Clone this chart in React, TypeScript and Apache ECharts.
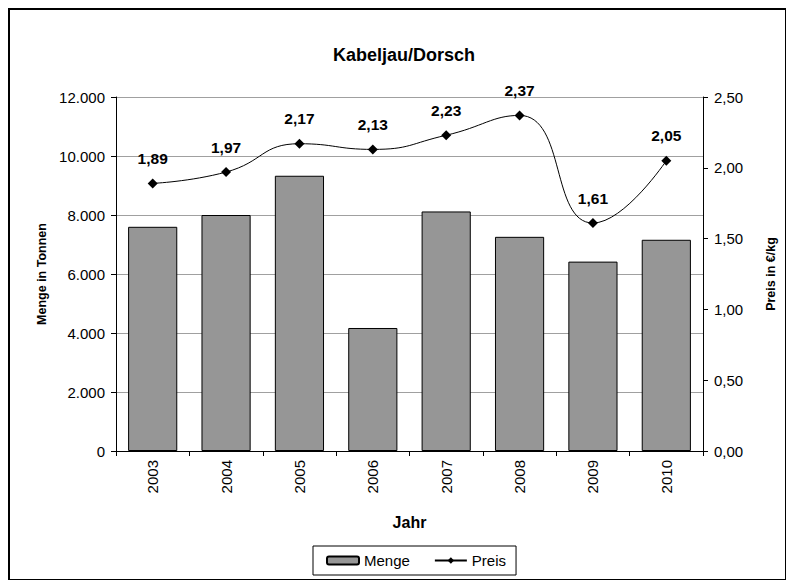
import React, { useEffect, useRef } from "react";
import * as echarts from "echarts";

const years = ["2003", "2004", "2005", "2006", "2007", "2008", "2009", "2010"];
const menge = [7600, 8000, 9330, 4170, 8120, 7260, 6420, 7160];
const preis = [1.89, 1.97, 2.17, 2.13, 2.23, 2.37, 1.61, 2.05];

const FONT = "Liberation Sans, Arial, sans-serif";

function fmtThousands(v: number): string {
  const s = Math.round(v).toString();
  return s.replace(/\B(?=(\d{3})+(?!\d))/g, ".");
}
function fmtComma(v: number): string {
  return v.toFixed(2).replace(".", ",");
}

export default function App() {
  const ref = useRef<HTMLDivElement>(null);
  useEffect(() => {
    if (!ref.current) return;
    const chart = echarts.init(ref.current, null, { renderer: "svg" });
    chart.setOption({
      animation: false,
      backgroundColor: "#ffffff",
      textStyle: { fontFamily: FONT },
      title: {
        text: "Kabeljau/Dorsch",
        left: 318,
        top: 31,
        textStyle: { fontFamily: FONT, fontSize: 18, fontWeight: "bold", color: "#000" },
      },
      grid: { left: 106, right: 67, top: 87, bottom: 128 },
      legend: {
        top: 536,
        left: 303,
        data: ["Menge", "Preis"],
        borderColor: "#000",
        borderWidth: 1,
        borderRadius: 0,
        padding: [7, 10, 7, 13],
        itemGap: 24,
        itemWidth: 32,
        itemHeight: 8,
        textStyle: { fontFamily: FONT, fontSize: 15, color: "#000" },
      },
      xAxis: {
        type: "category",
        data: years,
        name: "Jahr",
        nameLocation: "middle",
        nameGap: 63,
        nameTextStyle: { fontFamily: FONT, fontSize: 16, fontWeight: "bold", color: "#000" },
        axisLine: { lineStyle: { color: "#000", width: 1 } },
        axisTick: { show: true, length: 5, lineStyle: { color: "#000" } },
        axisLabel: { rotate: 90, fontSize: 15, color: "#000", margin: 9, fontFamily: FONT },
      },
      yAxis: [
        {
          type: "value",
          min: 0,
          max: 12000,
          interval: 2000,
          name: "Menge in Tonnen",
          nameLocation: "middle",
          nameRotate: 90,
          nameGap: 68,
          nameTextStyle: { fontFamily: FONT, fontSize: 12.5, fontWeight: "bold", color: "#000" },
          axisLine: { show: true, lineStyle: { color: "#000", width: 1 } },
          axisTick: { show: true, length: 5, lineStyle: { color: "#000" } },
          axisLabel: { fontSize: 15, color: "#000", fontFamily: FONT, formatter: (v: number) => fmtThousands(v), margin: 11 },
          splitLine: { show: true, lineStyle: { color: "#a0a0a0", width: 1 } },
        },
        {
          type: "value",
          min: 0,
          max: 2.5,
          interval: 0.5,
          position: "right",
          name: "Preis in €/kg",
          nameLocation: "middle",
          nameRotate: 90,
          nameGap: 61,
          nameTextStyle: { fontFamily: FONT, fontSize: 12.5, fontWeight: "bold", color: "#000" },
          axisLine: { show: true, lineStyle: { color: "#000", width: 1 } },
          axisTick: { show: true, length: 5, lineStyle: { color: "#000" } },
          axisLabel: { fontSize: 15, color: "#000", fontFamily: FONT, formatter: (v: number) => fmtComma(v), margin: 11 },
          splitLine: { show: false },
        },
      ],
      series: [
        {
          name: "Menge",
          type: "bar",
          data: menge,
          yAxisIndex: 0,
          barCategoryGap: "33%",
          itemStyle: { color: "#969696", borderColor: "#000", borderWidth: 1 },
        },
        {
          name: "Preis",
          type: "line",
          data: preis,
          yAxisIndex: 1,
          smooth: 0.5,
          symbol: "diamond",
          symbolSize: 10,
          lineStyle: { color: "#000", width: 1 },
          itemStyle: { color: "#000" },
          label: {
            show: true,
            position: "top",
            distance: 12,
            fontFamily: FONT,
            fontSize: 15.5,
            fontWeight: "bold",
            color: "#000",
            formatter: (p: any) => fmtComma(p.value),
          },
        },
      ],
    });
    return () => chart.dispose();
  }, []);
  return (
    <div
      ref={ref}
      style={{ width: 775, height: 569, border: "2px solid #000", borderRightWidth: 1, borderBottomWidth: 1 }}
    />
  );
}
